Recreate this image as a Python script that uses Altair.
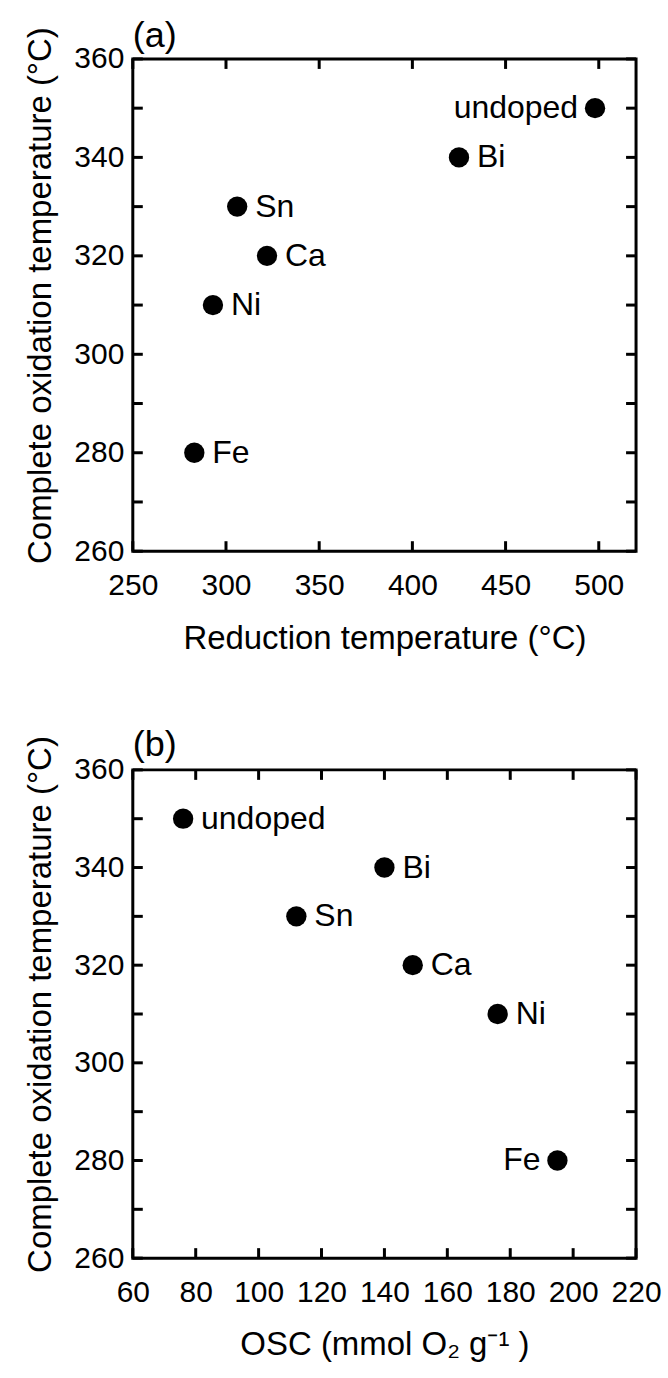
import altair as alt
import pandas as pd

FONT = "Liberation Sans"

samples = ["undoped", "Bi", "Sn", "Ca", "Ni", "Fe"]
reduction_temp = [498, 425, 306, 322, 293, 283]
osc = [76, 140, 112, 149, 176, 195]
oxidation_temp = [350, 340, 330, 320, 310, 280]

left_labels_a = ["undoped"]
left_labels_b = ["Fe"]

x_ticks_a = [250, 300, 350, 400, 450, 500]
x_labels_a = [250, 300, 350, 400, 450, 500]
x_ticks_b = [60, 80, 100, 120, 140, 160, 180, 200, 220]
x_labels_b = [60, 80, 100, 120, 140, 160, 180, 200, 220]
y_ticks = [260, 270, 280, 290, 300, 310, 320, 330, 340, 350, 360]
y_labels = [260, 280, 300, 320, 340, 360]

W = 504
TICK = 10


def panel(xvals, xdomain, xticks, xlabels, xtitle, left_labels, tag, H):
    df = pd.DataFrame({"sample": samples, "x": xvals, "y": oxidation_temp})
    xs = alt.Scale(domain=xdomain, nice=False, zero=False)
    ys = alt.Scale(domain=[260, 360], nice=False, zero=False)
    xaxis = alt.Axis(values=xlabels, ticks=False, tickSize=0, domain=False, grid=False,
                     labelOverlap=False, labelFlush=False,
                     labelPadding=19, title=xtitle, titlePadding=22)
    yaxis = alt.Axis(values=y_labels, ticks=False, tickSize=0, domain=False, grid=False,
                     labelOverlap=False, labelFlush=False,
                     labelPadding=9, title="Complete oxidation temperature (°C)",
                     titlePadding=16, titleY=H / 2 - 10)
    X = alt.X("x:Q", scale=xs, axis=xaxis)
    Y = alt.Y("y:Q", scale=ys, axis=yaxis)

    base = alt.Chart(df)
    points = base.mark_circle(size=415, color="black", opacity=1).encode(x=X, y=Y)
    right_text = base.transform_filter(
        ~alt.FieldOneOfPredicate(field="sample", oneOf=left_labels)
    ).mark_text(align="left", baseline="middle", dx=18, fontSize=32, font=FONT, color="black").encode(
        x=X, y=Y, text="sample:N")
    left_text = base.transform_filter(
        alt.FieldOneOfPredicate(field="sample", oneOf=left_labels)
    ).mark_text(align="right", baseline="middle", dx=-17, fontSize=32, font=FONT, color="black").encode(
        x=X, y=Y, text="sample:N")

    xt = alt.Chart(pd.DataFrame({"x": xticks}))
    yt = alt.Chart(pd.DataFrame({"y": y_ticks}))
    rule = dict(color="black", strokeWidth=3)
    xb = xt.mark_rule(**rule).encode(x=X, y=alt.value(H), y2=alt.value(H - TICK))
    xtop = xt.mark_rule(**rule).encode(x=X, y=alt.value(0), y2=alt.value(TICK))
    yl = yt.mark_rule(**rule).encode(y=Y, x=alt.value(0), x2=alt.value(TICK))
    yr = yt.mark_rule(**rule).encode(y=Y, x=alt.value(W), x2=alt.value(W - TICK))

    return alt.layer(xb, xtop, yl, yr, points, right_text, left_text).properties(
        width=W, height=H,
        title=alt.TitleParams(tag, anchor="start", frame="group", fontSize=36, font=FONT,
                              fontWeight="normal", color="black", offset=-28),
    )


pa = panel(reduction_temp, [250, 520], x_ticks_a, x_labels_a,
           "Reduction temperature (°C)", left_labels_a, "(a)", 493)
pb = panel(osc, [60, 220], x_ticks_b, x_labels_b,
           "OSC (mmol O₂ g⁻¹ )", left_labels_b, "(b)", 489)

chart = alt.vconcat(pa, pb, spacing=68).properties(
    padding={"left": 23, "top": 15, "right": 5, "bottom": 5},
    background="white",
).configure_view(stroke="black", strokeWidth=3).configure_axis(
    labelFont=FONT, titleFont=FONT, labelFontSize=30, titleFontSize=33,
    labelColor="black", titleColor="black", titleFontWeight="normal",
)

chart.save("out.html", embed_options={"renderer": "svg", "actions": False})
